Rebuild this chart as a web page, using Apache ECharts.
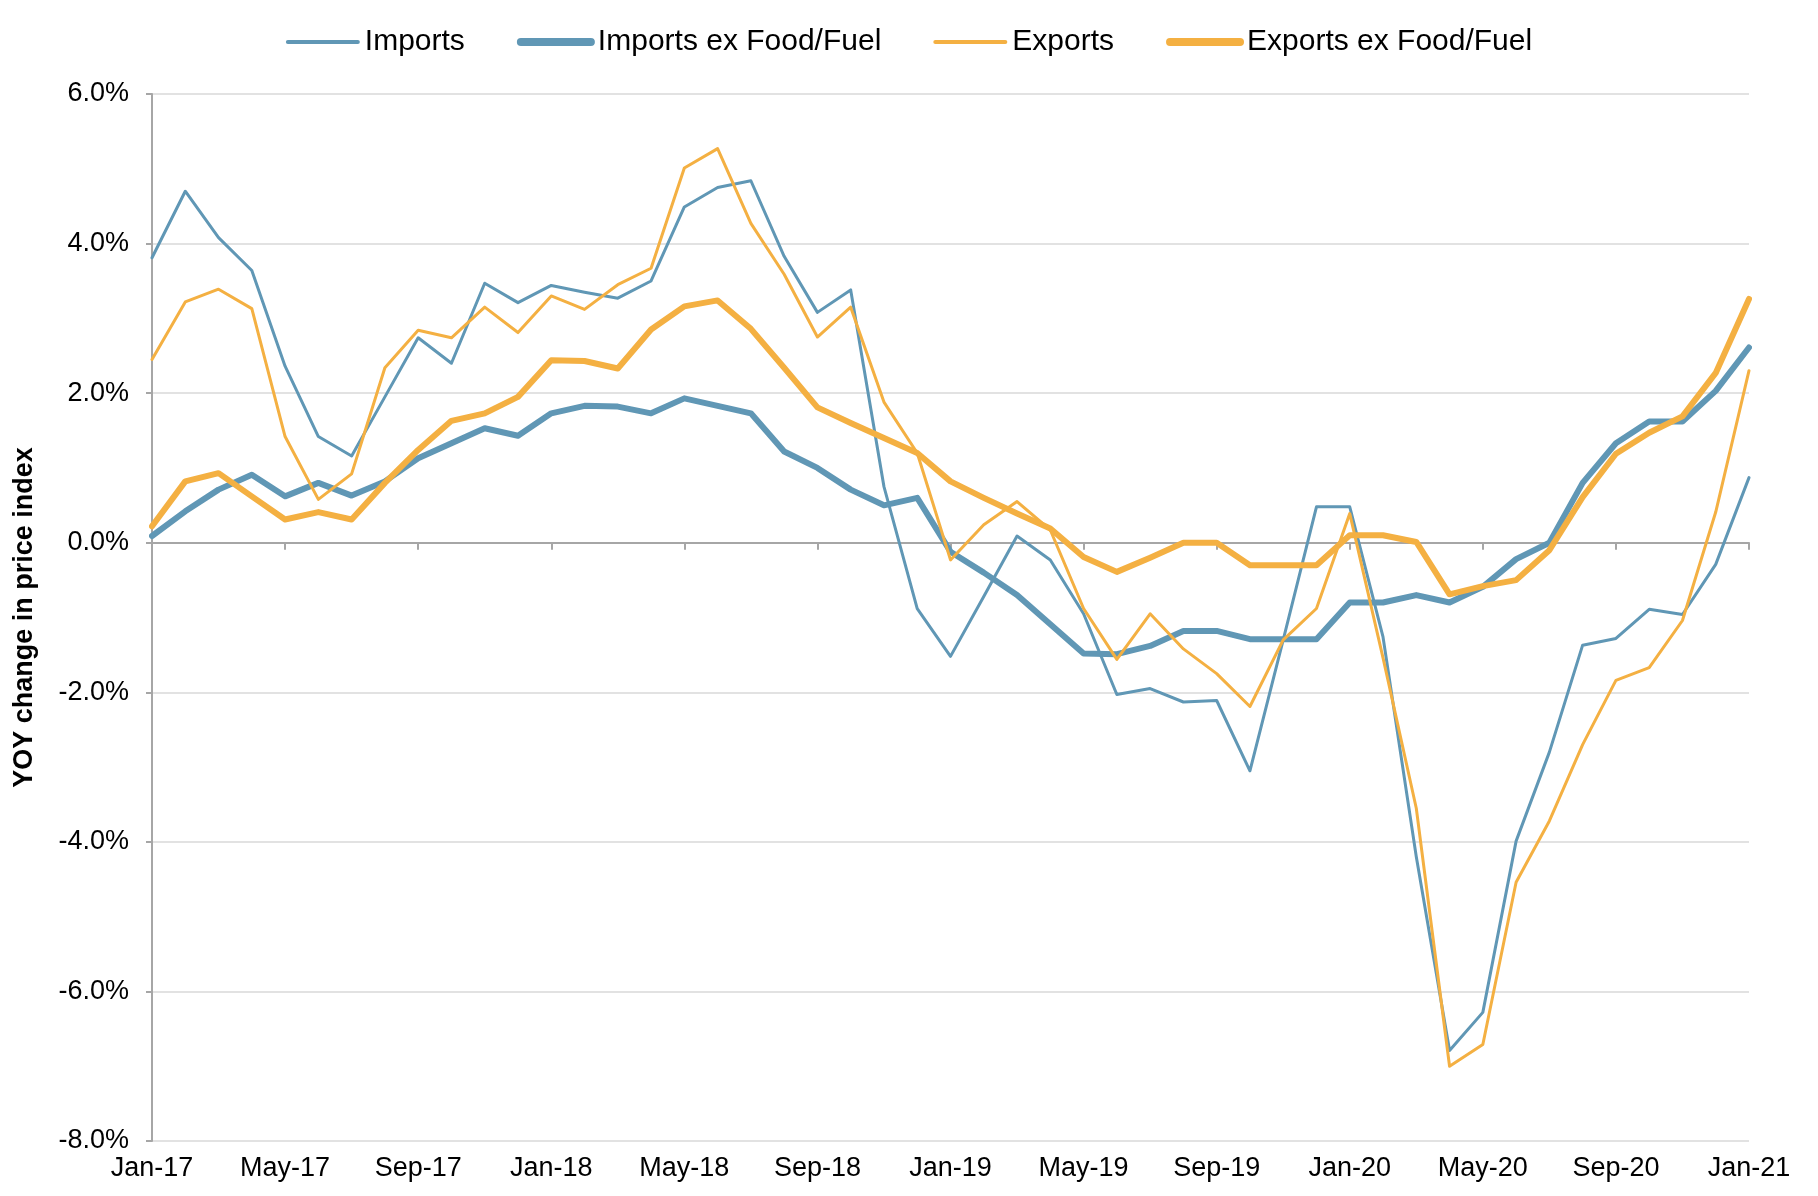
<!DOCTYPE html>
<html>
<head>
<meta charset="utf-8">
<script src="https://cdn.jsdelivr.net/npm/echarts@6/dist/echarts.min.js"></script>
<style>
html,body{margin:0;padding:0;background:#fff;}
#chart{width:1818px;height:1196px;}
</style>
</head>
<body>
<div id="chart"></div>
<script>
const months = (function(){
  const names = ['Jan','Feb','Mar','Apr','May','Jun','Jul','Aug','Sep','Oct','Nov','Dec'];
  const out = [];
  for (let y = 17; y <= 21; y++) {
    for (let m = 0; m < 12; m++) {
      if (y === 21 && m > 0) break;
      out.push(names[m] + '-' + y);
    }
  }
  return out;
})();

const imports = [3.81,4.70,4.08,3.64,2.36,1.42,1.16,1.95,2.74,2.40,3.47,3.21,3.44,3.35,3.27,3.50,4.49,4.75,4.84,3.83,3.08,3.38,0.75,-0.88,-1.52,-0.72,0.09,-0.23,-0.95,-2.03,-1.95,-2.13,-2.11,-3.05,-1.30,0.48,0.48,-1.26,-4.20,-6.79,-6.28,-3.99,-2.80,-1.37,-1.28,-0.89,-0.96,-0.29,0.87];
const importsEx = [0.09,0.42,0.71,0.91,0.62,0.80,0.63,0.82,1.13,1.33,1.53,1.43,1.73,1.83,1.82,1.73,1.93,1.83,1.73,1.22,1.00,0.71,0.50,0.60,-0.12,-0.40,-0.70,-1.09,-1.48,-1.49,-1.38,-1.18,-1.18,-1.29,-1.29,-1.29,-0.80,-0.80,-0.70,-0.80,-0.59,-0.22,0.00,0.80,1.33,1.62,1.62,2.03,2.61];
const exportsAll = [2.45,3.22,3.39,3.13,1.42,0.58,0.92,2.34,2.84,2.74,3.15,2.81,3.30,3.12,3.45,3.67,5.01,5.27,4.27,3.59,2.75,3.15,1.88,1.20,-0.23,0.24,0.55,0.17,-0.88,-1.56,-0.95,-1.42,-1.75,-2.19,-1.30,-0.88,0.39,-1.54,-3.55,-7.00,-6.71,-4.54,-3.72,-2.70,-1.84,-1.67,-1.04,0.41,2.30];
const exportsEx = [0.22,0.82,0.93,0.62,0.31,0.41,0.31,0.80,1.24,1.63,1.73,1.95,2.44,2.43,2.33,2.85,3.16,3.24,2.86,2.34,1.81,1.60,1.40,1.20,0.82,0.60,0.39,0.19,-0.19,-0.39,-0.20,0.00,0.00,-0.30,-0.30,-0.30,0.10,0.10,0.01,-0.69,-0.58,-0.50,-0.10,0.61,1.19,1.47,1.69,2.27,3.26];

const seriesNames = ['Imports','Imports ex Food/Fuel','Exports','Exports ex Food/Fuel'];
const BLUE = '#6097b5', ORANGE = '#f4b042';
const FONT = '"Liberation Sans", Arial, sans-serif';

const chart = echarts.init(document.getElementById('chart'), null, {renderer:'canvas'});

function mkSeries(name, data, color, width) {
  return {
    name: name, type: 'line', data: data, xAxisIndex: 0,
    symbol: 'none', showSymbol: false, animation: false,
    lineStyle: {color: color, width: width, cap: 'round', join: 'round'},
    itemStyle: {color: color}
  };
}

chart.setOption({
  animation: false,
  textStyle: {fontFamily: FONT, color: '#000'},
  legend: {
    top: 22, left: 'center',
    itemWidth: 70, itemHeight: 14, itemGap: 52,
    itemStyle: {opacity: 0, borderWidth: 0},
    textStyle: {fontSize: 30, color: '#000', fontFamily: FONT, padding: [0,0,0,2]},
    data: [
      {name: seriesNames[0], lineStyle: {width: 4, cap: 'round'}},
      {name: seriesNames[1], lineStyle: {width: 8, cap: 'round'}},
      {name: seriesNames[2], lineStyle: {width: 4, cap: 'round'}},
      {name: seriesNames[3], lineStyle: {width: 8, cap: 'round'}}
    ]
  },
  grid: {left: 152, right: 69, top: 94, bottom: 55, containLabel: false},
  xAxis: [
    {
      type: 'category', data: months, boundaryGap: false, position: 'bottom',
      axisLine: {show: false, onZero: false},
      axisTick: {show: false},
      axisLabel: {interval: 3, fontSize: 27, color: '#000', margin: 14, fontFamily: FONT},
      splitLine: {show: false}
    },
    {
      type: 'category', data: months, boundaryGap: false, position: 'bottom',
      axisLine: {show: true, onZero: true, lineStyle: {color: '#a6a6a6', width: 2}},
      axisTick: {show: true, interval: 3, length: 7, lineStyle: {color: '#a6a6a6', width: 2}},
      axisLabel: {show: false},
      splitLine: {show: false}
    }
  ],
  yAxis: {
    type: 'value', min: -8, max: 6, interval: 2,
    name: 'YOY change in price index', nameLocation: 'middle', nameGap: 114,
    nameTextStyle: {fontSize: 27, fontWeight: 'bold', color: '#000', fontFamily: FONT},
    axisLine: {show: true, lineStyle: {color: '#a6a6a6', width: 2}},
    axisTick: {show: true, length: 6, lineStyle: {color: '#a6a6a6', width: 2}},
    axisLabel: {fontSize: 27, color: '#000', margin: 23, fontFamily: FONT,
      formatter: function(v){ return v.toFixed(1) + '%'; }},
    splitLine: {show: true, lineStyle: {color: '#d9d9d9', width: 1.5}}
  },
  series: [
    mkSeries(seriesNames[0], imports, BLUE, 3),
    mkSeries(seriesNames[1], importsEx, BLUE, 6),
    mkSeries(seriesNames[2], exportsAll, ORANGE, 3),
    mkSeries(seriesNames[3], exportsEx, ORANGE, 6)
  ]
});
</script>
</body>
</html>
